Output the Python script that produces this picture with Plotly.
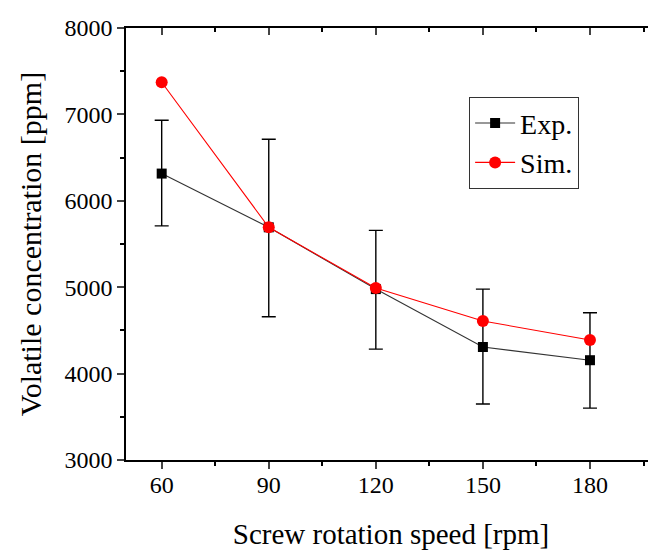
import plotly.graph_objects as go

speed = [60, 90, 120, 150, 180]
exp_vals = [6315, 5693, 4978, 4308, 4155]
exp_err_plus = [617, 1020, 680, 670, 550]
exp_err_minus = [605, 1035, 695, 660, 555]
sim_vals = [7372, 5693, 4990, 4609, 4389]
xticks = [60, 90, 120, 150, 180]
yticks = [3000, 4000, 5000, 6000, 7000, 8000]

font_family = "Liberation Serif, DejaVu Serif, serif"

fig = go.Figure()
fig.add_trace(go.Scatter(
    x=speed, y=exp_vals, name="Exp.", mode="lines+markers",
    line=dict(color="#333333", width=1.1),
    marker=dict(symbol="square", size=10, color="black"),
    error_y=dict(type="data", array=exp_err_plus, arrayminus=exp_err_minus,
                 color="black", thickness=1.4, width=7),
))
fig.add_trace(go.Scatter(
    x=speed, y=sim_vals, name="Sim.", mode="lines+markers",
    line=dict(color="red", width=1.1),
    marker=dict(symbol="circle", size=12, color="red"),
))
# top axis line with inside ticks
fig.add_trace(go.Scatter(x=[60], y=[None], xaxis="x2", showlegend=False, hoverinfo="skip"))

minor_x = [75, 105, 135, 165, 195]
minor_y = [3500, 4500, 5500, 6500, 7500]

fig.update_layout(
    width=648, height=542,
    margin=dict(l=118, r=0, t=20, b=90),
    paper_bgcolor="white", plot_bgcolor="white",
    font=dict(family=font_family, size=24, color="black"),
    showlegend=True,
    legend=dict(x=0.647, y=0.84, xanchor="left", yanchor="top",
                bordercolor="#333333", borderwidth=1.2, bgcolor="white",
                font=dict(size=28, family=font_family), itemwidth=40,
                tracegroupgap=0),
    xaxis=dict(range=[50, 198.5], tickvals=xticks, ticks="outside",
               ticklen=7, tickwidth=1.5, showline=True, linecolor="black",
               linewidth=1.5, showgrid=False, zeroline=False,
               ticklabelstandoff=-5,
               minor=dict(tickvals=minor_x, ticks="outside",
                          ticklen=4, tickwidth=1.5, tickcolor="black"),
               title=dict(text="Screw rotation speed [rpm]", font=dict(size=29), standoff=30),
               tickfont=dict(size=24)),
    xaxis2=dict(range=[50, 198.5], overlaying="x", side="top", tickvals=xticks,
                ticks="inside", ticklen=7, tickwidth=1.5, showticklabels=False,
                showline=True, linecolor="black", linewidth=1.5, showgrid=False,
                zeroline=False,
                minor=dict(tickvals=minor_x, ticks="inside",
                           ticklen=4, tickwidth=1.5, tickcolor="black")),
    yaxis=dict(range=[3000, 8000], tickvals=yticks, ticks="outside",
               ticklen=7, tickwidth=1.5, showline=True, linecolor="black",
               linewidth=1.5, showgrid=False, zeroline=False,
               minor=dict(tickvals=minor_y, ticks="outside",
                          ticklen=4, tickwidth=1.5, tickcolor="black"),
               title=dict(text="Volatile concentration [ppm]", font=dict(size=30), standoff=14),
               tickfont=dict(size=24)),
)

fig.write_html("out.html")
